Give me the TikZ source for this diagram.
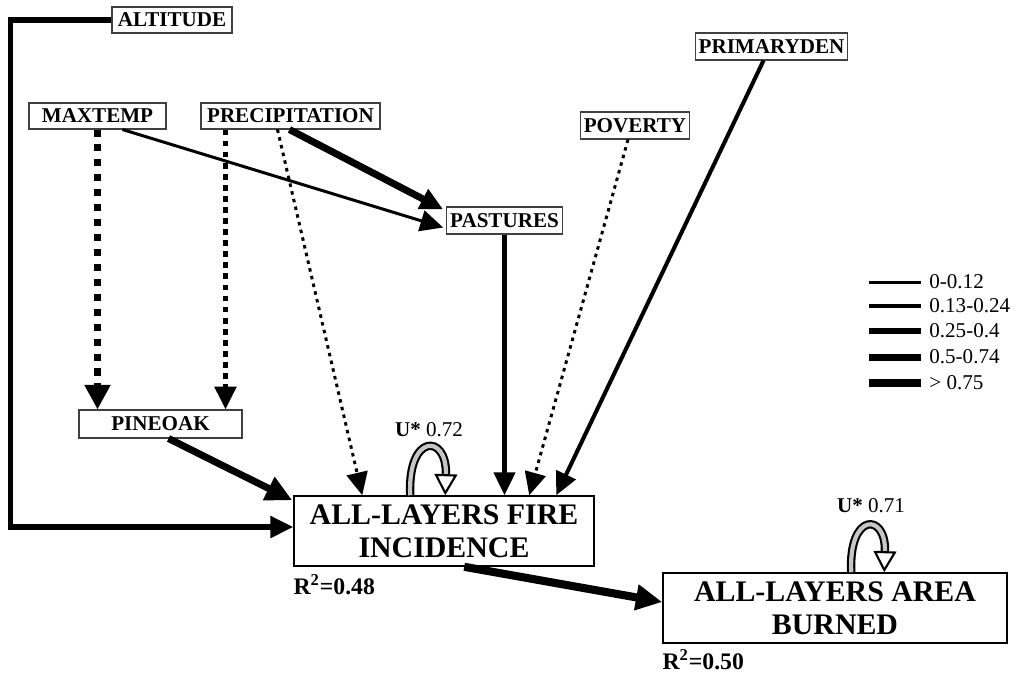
\documentclass[tikz,border=0pt]{standalone}
\usepackage{fontspec}
\setmainfont{Liberation Serif}
\usepackage{tikz}
\usetikzlibrary{positioning,calc,arrows.meta}

\tikzset{
  varbox/.style={draw=black!75, line width=0.6pt, fill=white,
    font=\fontsize{12}{14}\selectfont\bfseries,
    inner xsep=2pt, inner ysep=0pt, minimum height=0.52cm},
  mainbox/.style={draw, line width=0.9pt, fill=white, align=center,
    font=\fontsize{17}{19}\selectfont\bfseries,
    minimum height=1.4cm},
  coefA/.style={line width=1.7pt},
  coefB/.style={line width=2.3pt},
  coefC/.style={line width=2.9pt},
  coefD/.style={line width=4pt},
  coefE/.style={line width=4.6pt},
  uloop/.style={line width=1.2pt, double=gray!45, double distance=2.4pt,
    -{Triangle[length=12pt,width=13pt,fill=white]}},
  legtext/.style={anchor=west, inner sep=0pt, font=\fontsize{12}{14}\selectfont}
}

\begin{document}
\begin{tikzpicture}[x=0.02cm, y=-0.02cm, >={Triangle[length=13pt,width=12pt]}]

	\useasboundingbox (0,0) rectangle (1016,674);

	% \draw[help lines, step=1cm,gray!20] (0,0) grid (1016,674);

	\node[varbox, minimum width=2.4cm] (ALT) at (172,20) {ALTITUDE};
	\node[varbox, minimum width=2.74cm] (MAXT) at (97.5,116) {MAXTEMP};
	\node[varbox, minimum width=3.58cm] (PREC) at (290.5,116) {PRECIPITATION};
	\node[varbox, minimum width=2.18cm, minimum height=0.54cm] (PAST) at (504.5,220.5) {PASTURES};
	\node[varbox, minimum width=1.88cm, minimum height=0.54cm] (POV) at (635,125.5) {POVERTY};
	\node[varbox, minimum width=3.02cm, minimum height=0.54cm] (PRIM) at (771.5,46.5) {PRIMARYDEN};
	\node[varbox, minimum width=3.26cm, minimum height=0.56cm] (PINE) at (160.5,424) {PINEOAK};

	\node[mainbox, minimum width=6cm] (FIRE) at (444,531) {ALL-LAYERS FIRE\\INCIDENCE};
	\node[mainbox, minimum width=6.88cm] (AREA) at (835,608) {ALL-LAYERS AREA\\BURNED};

	\node[inner sep=0pt, font=\fontsize{13.5}{15}\selectfont\bfseries] (R1)
		[below right = 0.14cm and 0cm of FIRE.south west] {R\textsuperscript{2}=0.48};
	\node[inner sep=0pt, font=\fontsize{13.5}{15}\selectfont\bfseries] (R2)
		[below right = 0.1cm and 0cm of AREA.south west] {R\textsuperscript{2}=0.50};

	\node[inner sep=0pt, font=\fontsize{12}{14}\selectfont] (U1) at (429,430) {\textbf{U*} 0.72};
	\node[inner sep=0pt, font=\fontsize{12}{14}\selectfont] (U2) at (871,506) {\textbf{U*} 0.71};

	% legend
	\node[legtext] (L1) at (929,282) {0-0.12};
	\node[legtext] (L2) at (929,306) {0.13-0.24};
	\node[legtext] (L3) at (929,331) {0.25-0.4};
	\node[legtext] (L4) at (929,357) {0.5-0.74};
	\node[legtext] (L5) at (929,383) {> 0.75};

	\draw[coefA] ($(L1.west)+(-60,0)$) -- ($(L1.west)+(-8,0)$);
	\draw[coefB] ($(L2.west)+(-60,0)$) -- ($(L2.west)+(-8,0)$);
	\draw[coefC] ($(L3.west)+(-60,0)$) -- ($(L3.west)+(-8,0)$);
	\draw[coefD] ($(L4.west)+(-60,0)$) -- ($(L4.west)+(-8,0)$);
	\draw[coefE] ($(L5.west)+(-60,0)$) -- ($(L5.west)+(-8,0)$);

	% paths
	\coordinate (PRECa) at ($(PREC.south west)+(25,0)$);

	\draw[->, coefC] (ALT.west) -- ++(-101,0) |- ($(FIRE.west)+(0,-4)$);
	\draw[->, coefD, dash pattern=on 4pt off 4.5pt, >={Triangle[length=14pt,width=14pt]}]
		(MAXT.south) -- (MAXT.south |- PINE.north);
	\draw[->, coefC, dash pattern=on 3.3pt off 3pt]
		(PRECa) -- (PRECa |- PINE.north);
	\draw[->, coefA, dash pattern=on 2pt off 2.5pt]
		($(PREC.south west)+(77,0)$) -- ($(FIRE.north west)+(69,0)$);
	\draw[->, coefD] ($(PREC.south west)+(89,0)$) -- ($(PAST.north west)+(-3,3)$);
	\draw[->, coefA] ($(MAXT.south west)+(94,0)$) -- ($(PAST.west)+(-3,7)$);
	\draw[->, coefB] (PAST.south) -- (PAST.south |- FIRE.north);
	\draw[->, coefA, dash pattern=on 2pt off 2.5pt]
		($(POV.south)+(-7,0)$) -- ($(FIRE.north west)+(236,0)$);
	\draw[->, coefB] ($(PRIM.south)+(-8,0)$) -- ($(FIRE.north west)+(263,0)$);
	\draw[->, coefD, >={Triangle[length=15pt,width=14pt]}]
		($(PINE.south)+(8,0)$) -- ($(FIRE.north west)+(-1,5)$);
	\draw[->, coefE, >={Triangle[length=15pt,width=14pt]}]
		($(FIRE.south west)+(171,0)$) -- ($(AREA.west)+(0,-6)$);

	% error terms
	\draw[uloop] ($(FIRE.north west)+(117,0)$) .. controls ($(FIRE.north west)+(114,-62)$)
		and ($(FIRE.north west)+(154,-62)$) .. ($(FIRE.north west)+(152,0)$);
	\draw[uloop] ($(AREA.north west)+(189,0)$) .. controls ($(AREA.north west)+(186,-60)$)
		and ($(AREA.north west)+(224,-60)$) .. ($(AREA.north west)+(222,0)$);

\end{tikzpicture}
\end{document}
